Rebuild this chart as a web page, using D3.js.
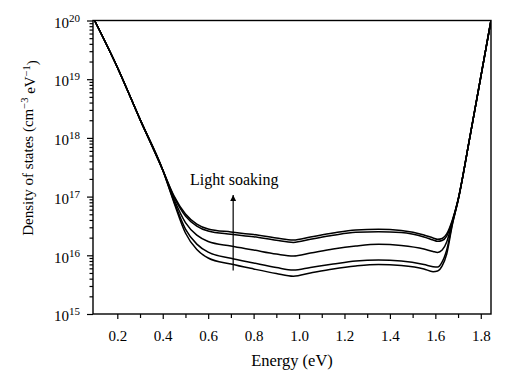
<!DOCTYPE html>
<html>
<head>
<meta charset="utf-8">
<title>Density of states</title>
<script src="https://d3js.org/d3.v7.min.js"></script>
<style>
  body { margin: 0; background: #fff; }
</style>
</head>
<body>
<script>
// energy grid (eV) and DOS for 5 light-soaking states (cm^-3 eV^-1), bottom = initial
let energy = [0.10, 0.20, 0.30, 0.40, 0.45, 0.50, 0.55, 0.60, 0.70, 0.80, 0.90, 0.975, 1.05, 1.15, 1.25, 1.35, 1.45, 1.55, 1.59, 1.61, 1.63, 1.65, 1.675, 1.70, 1.75, 1.80, 1.845]
let dos1 = [1e20, 1.6e19, 2.07e18, 2.84e17, 1.02e17, 5.06e16, 3.41e16, 2.81e16, 2.49e16, 2.26e16, 1.97e16, 1.82e16, 2.05e16, 2.40e16, 2.70e16, 2.77e16, 2.64e16, 2.22e16, 1.97e16, 1.87e16, 1.93e16, 2.31e16, 3.99e16, 8.9e16, 9.35e17, 1.09e19, 1e20]
let dos2 = [1e20, 1.6e19, 2.07e18, 2.84e17, 9.8e16, 4.68e16, 3.15e16, 2.59e16, 2.28e16, 2.07e16, 1.80e16, 1.66e16, 1.87e16, 2.19e16, 2.47e16, 2.52e16, 2.44e16, 2.05e16, 1.82e16, 1.73e16, 1.79e16, 2.13e16, 3.84e16, 8.8e16, 9.35e17, 1.09e19, 1e20]
let dos3 = [1e20, 1.6e19, 2.07e18, 2.84e17, 8.9e16, 3.6e16, 2.2e16, 1.72e16, 1.44e16, 1.23e16, 1.05e16, 9.7e15, 1.09e16, 1.28e16, 1.44e16, 1.54e16, 1.47e16, 1.28e16, 1.16e16, 1.12e16, 1.23e16, 1.69e16, 3.69e16, 8.75e16, 9.35e17, 1.09e19, 1e20]
let dos4 = [1e20, 1.6e19, 2.07e18, 2.84e17, 8.2e16, 2.8e16, 1.55e16, 1.13e16, 8.9e15, 7.4e15, 6.2e15, 5.6e15, 6.2e15, 7.1e15, 8.0e15, 8.3e15, 8.0e15, 6.97e15, 6.4e15, 6.3e15, 7.7e15, 1.23e16, 3.48e16, 8.6e16, 9.35e17, 1.09e19, 1e20]
let dos5 = [1e20, 1.6e19, 2.07e18, 2.84e17, 7.8e16, 2.4e16, 1.25e16, 9.0e15, 7.1e15, 5.85e15, 4.9e15, 4.4e15, 4.99e15, 5.85e15, 6.58e15, 7.0e15, 6.7e15, 5.85e15, 5.26e15, 5.4e15, 6.58e15, 1.05e16, 3.35e16, 8.5e16, 9.35e17, 1.09e19, 1e20]

let xTicks = [0.2, 0.4, 0.6, 0.8, 1.0, 1.2, 1.4, 1.6, 1.8]
let xMinor = [0.3, 0.5, 0.7, 0.9, 1.1, 1.3, 1.5, 1.7]
let yExponents = [15, 16, 17, 18, 19, 20]

// arrow and annotation
let arrowE = 0.71
let arrowFrom = 5.5e15
let arrowTo = 1.06e17
let noteE = 0.52
let noteY = 1.6e17

let w = 520
let h = 375
let mLeft = 93, mRight = 491, mTop = 20.5, mBottom = 314
let serif = "'Liberation Serif', 'Times New Roman', Times, serif"

let xScale = d3.scaleLinear()
  .domain([0.093, 1.845])
  .range([mLeft, mRight])

let yScale = d3.scaleLog()
  .domain([1e15, 1e20])
  .range([mBottom, mTop])

let svg = d3.select("body")
  .append("svg")
  .attr("width", w)
  .attr("height", h)
  .style("background-color", "white")
  .attr("font-family", serif)

// minor log ticks on y
let yMinor = []
for (let e = 15; e < 20; e++) {
  for (let m = 2; m <= 9; m++) yMinor.push(m * Math.pow(10, e))
}

svg.append("g")
  .attr("transform", `translate(${mLeft},0)`)
  .call(d3.axisLeft(yScale).tickValues(yMinor).tickSize(3.5).tickSizeOuter(0).tickFormat(""))

let yAxis = svg.append("g")
  .attr("transform", `translate(${mLeft},0)`)
  .call(d3.axisLeft(yScale)
    .tickValues(yExponents.map(e => Math.pow(10, e)))
    .tickSize(6).tickSizeOuter(0).tickPadding(7)
    .tickFormat(""))

yAxis.selectAll(".tick text").each(function(d) {
  let t = d3.select(this)
  t.attr("dy", "0.45em").style("font-size", "15px")
  t.append("tspan").text("10")
  t.append("tspan").text(Math.round(Math.log10(d)))
    .attr("dy", "-0.55em").style("font-size", "11px")
})

svg.append("g")
  .attr("transform", `translate(0,${mBottom})`)
  .call(d3.axisBottom(xScale).tickValues(xMinor).tickSize(4).tickSizeOuter(0).tickFormat(""))

svg.append("g")
  .attr("transform", `translate(0,${mBottom})`)
  .call(d3.axisBottom(xScale).tickValues(xTicks).tickSize(5).tickSizeOuter(0).tickPadding(11)
    .tickFormat(d3.format(".1f")))
  .selectAll("text")
  .style("font-size", "15px")

svg.selectAll(".domain").remove()
svg.selectAll(".tick line").attr("stroke", "#000").attr("stroke-width", 1.2)
svg.selectAll("g").attr("font-family", serif)
svg.selectAll(".tick text").attr("fill", "#000")

// frame
svg.append("rect")
  .attr("x", mLeft)
  .attr("y", mTop)
  .attr("width", mRight - mLeft)
  .attr("height", mBottom - mTop)
  .attr("fill", "none")
  .attr("stroke", "#000")
  .attr("stroke-width", 1.4)

// curves
let series = [dos1, dos2, dos3, dos4, dos5]
let line = d3.line()
  .x((d, i) => xScale(energy[i]))
  .y(d => yScale(d))
  .curve(d3.curveMonotoneX)

let defs = svg.append("defs")
defs.append("clipPath").attr("id", "clip")
  .append("rect")
  .attr("x", mLeft).attr("y", mTop)
  .attr("width", mRight - mLeft).attr("height", mBottom - mTop)

svg.append("g")
  .attr("clip-path", "url(#clip)")
  .selectAll("path")
  .data(series)
  .enter()
  .append("path")
  .attr("d", line)
  .attr("fill", "none")
  .attr("stroke", "#000")
  .attr("stroke-width", 1.5)

// light soaking arrow
defs.append("marker")
  .attr("id", "head")
  .attr("markerUnits", "userSpaceOnUse")
  .attr("viewBox", "0 0 10 10")
  .attr("refX", 10).attr("refY", 5)
  .attr("markerWidth", 8).attr("markerHeight", 6)
  .attr("orient", "auto")
  .append("path")
  .attr("d", "M0,0 L10,5 L0,10 Z")
  .attr("fill", "#000")

svg.append("line")
  .attr("x1", xScale(arrowE)).attr("x2", xScale(arrowE))
  .attr("y1", yScale(arrowFrom)).attr("y2", yScale(arrowTo))
  .attr("stroke", "#000")
  .attr("stroke-width", 1.2)
  .attr("marker-end", "url(#head)")

svg.append("text")
  .attr("x", xScale(noteE))
  .attr("y", yScale(noteY))
  .style("font-size", "16px")
  .text("Light soaking")

// axis titles
svg.append("text")
  .attr("x", (mLeft + mRight) / 2)
  .attr("y", 366)
  .attr("text-anchor", "middle")
  .style("font-size", "16.5px")
  .text("Energy (eV)")

let yTitle = svg.append("text")
  .attr("transform", "translate(33,148) rotate(-90)")
  .attr("text-anchor", "middle")
  .style("font-size", "15px")
yTitle.append("tspan").text("Density of states (cm")
yTitle.append("tspan").text("\u22123").attr("dy", "-0.45em").style("font-size", "10.5px")
yTitle.append("tspan").text(" eV").attr("dy", "0.45em")
yTitle.append("tspan").text("\u22121").attr("dy", "-0.45em").style("font-size", "10.5px")
yTitle.append("tspan").text(")").attr("dy", "0.45em")
</script>
</body>
</html>
